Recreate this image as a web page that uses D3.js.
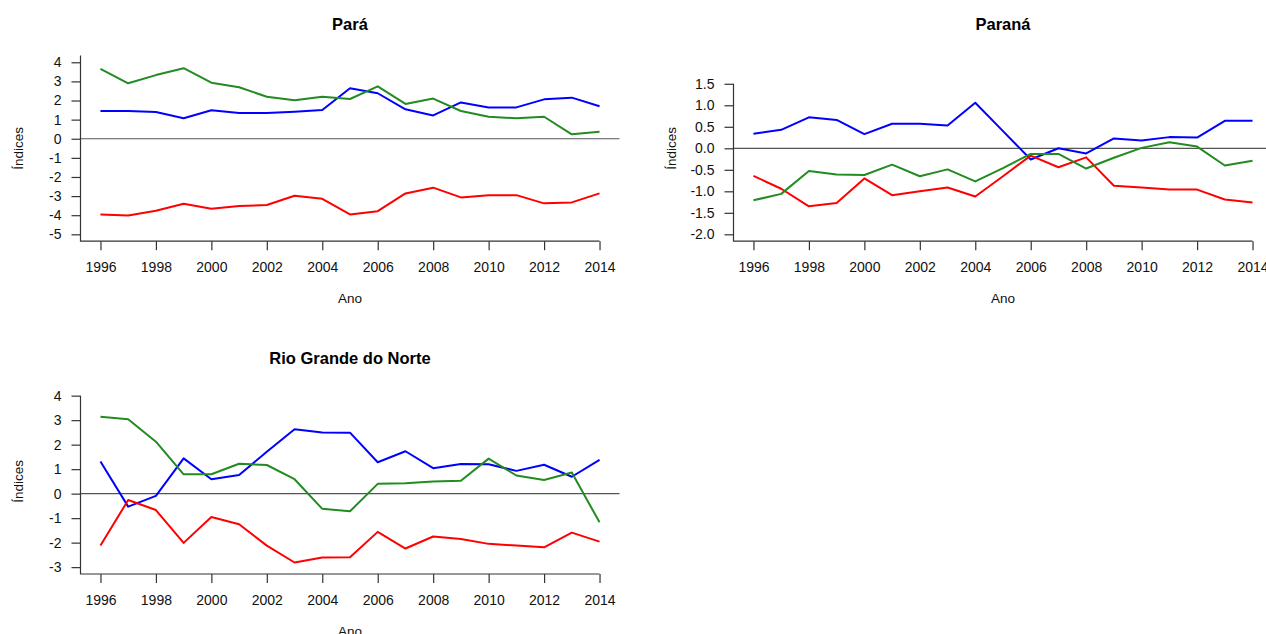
<!DOCTYPE html>
<html>
<head>
<meta charset="utf-8">
<script src="https://cdn.jsdelivr.net/npm/d3@7"></script>
<style>
  html, body { margin: 0; padding: 0; background: #ffffff; }
  svg { display: block; font-family: "Liberation Sans", Arial, sans-serif; }
</style>
</head>
<body>
<svg id="chart" width="1266" height="634"></svg>
<script>
// ---------------- DATA ----------------
const years = [1996, 1997, 1998, 1999, 2000, 2001, 2002, 2003, 2004, 2005,
               2006, 2007, 2008, 2009, 2010, 2011, 2012, 2013, 2014];
const xTickLabels = [1996, 1998, 2000, 2002, 2004, 2006, 2008, 2010, 2012, 2014];

// Pará
const paraBlue  = [1.45, 1.45, 1.40, 1.07, 1.49, 1.35, 1.35, 1.41, 1.50, 2.64, 2.38, 1.54, 1.22, 1.90, 1.64, 1.64, 2.06, 2.15, 1.70];
const paraRed   = [-3.96, -4.01, -3.77, -3.40, -3.66, -3.52, -3.47, -2.98, -3.14, -3.96, -3.79, -2.86, -2.56, -3.07, -2.95, -2.95, -3.38, -3.33, -2.86];
const paraGreen = [3.65, 2.90, 3.33, 3.69, 2.93, 2.69, 2.20, 2.01, 2.20, 2.08, 2.74, 1.82, 2.10, 1.45, 1.15, 1.07, 1.15, 0.23, 0.37];
const paraYTicks = [-5, -4, -3, -2, -1, 0, 1, 2, 3, 4];

// Paraná
const paranaBlue  = [0.34, 0.43, 0.72, 0.66, 0.33, 0.57, 0.57, 0.53, 1.06, 0.40, -0.26, 0.00, -0.12, 0.23, 0.18, 0.26, 0.25, 0.64, 0.64];
const paranaRed   = [-0.64, -0.94, -1.35, -1.27, -0.70, -1.09, -1.00, -0.91, -1.12, -0.65, -0.17, -0.44, -0.21, -0.87, -0.91, -0.96, -0.96, -1.19, -1.26];
const paranaGreen = [-1.21, -1.06, -0.53, -0.61, -0.62, -0.38, -0.65, -0.49, -0.77, -0.46, -0.13, -0.13, -0.47, -0.22, 0.01, 0.14, 0.04, -0.40, -0.29];
const paranaYTicks = [-2.0, -1.5, -1.0, -0.5, 0.0, 0.5, 1.0, 1.5];

// Rio Grande do Norte
const rgnBlue  = [1.31, -0.53, -0.09, 1.44, 0.59, 0.76, 1.71, 2.63, 2.50, 2.49, 1.28, 1.73, 1.04, 1.21, 1.20, 0.93, 1.18, 0.69, 1.38];
const rgnRed   = [-2.12, -0.26, -0.67, -2.01, -0.95, -1.25, -2.12, -2.81, -2.61, -2.60, -1.56, -2.24, -1.75, -1.85, -2.05, -2.12, -2.19, -1.59, -1.96];
const rgnGreen = [3.14, 3.04, 2.12, 0.79, 0.79, 1.22, 1.17, 0.59, -0.62, -0.72, 0.40, 0.42, 0.50, 0.53, 1.43, 0.74, 0.56, 0.86, -1.17];
const rgnYTicks = [-3, -2, -1, 0, 1, 2, 3, 4];

const titles = ["Pará", "Paraná", "Rio Grande do Norte"];
const xLabel = "Ano";
const yLabel = "Índices";

// ---------------- LAYOUT ----------------
const colors = { blue: "#0000FF", red: "#FF0000", green: "#228B22" };

const panels = [
  { title: titles[0], blue: paraBlue, red: paraRed, green: paraGreen, yTicks: paraYTicks,
    yLim: [-5, 4], fmt: d => String(d), axisTop: 4.36,
    box: { left: 80.5, right: 619.5, top: 55.4, bottom: 241.2 } },
  { title: titles[1], blue: paranaBlue, red: paranaRed, green: paranaGreen, yTicks: paranaYTicks,
    yLim: [-2, 2], fmt: d => d.toFixed(1), axisTop: 1.5,
    box: { left: 733.5, right: 1272.5, top: 55.4, bottom: 241.2 } },
  { title: titles[2], blue: rgnBlue, red: rgnRed, green: rgnGreen, yTicks: rgnYTicks,
    yLim: [-3, 4], fmt: d => String(d), axisTop: 4,
    box: { left: 80.5, right: 619.5, top: 388.8, bottom: 574.0 } }
];

const svg = d3.select("#chart");

function padDomain(lo, hi) {
  const p = (hi - lo) * 0.04;
  return [lo - p, hi + p];
}

panels.forEach(p => {
  const b = p.box;
  const x = d3.scaleLinear().domain(padDomain(years[0], years[years.length - 1])).range([b.left, b.right]);
  const y = d3.scaleLinear().domain(padDomain(p.yLim[0], p.yLim[1])).range([b.bottom, b.top]);
  const g = svg.append("g");

  // zero reference line
  g.append("line")
    .attr("x1", b.left).attr("x2", b.right)
    .attr("y1", y(0)).attr("y2", y(0))
    .attr("stroke", "#555").attr("stroke-width", 1.2);

  // series lines
  const line = d3.line().x((d, i) => x(years[i])).y(d => y(d));
  [["blue", p.blue], ["red", p.red], ["green", p.green]].forEach(([c, vals]) => {
    g.append("path")
      .datum(vals)
      .attr("d", line)
      .attr("fill", "none")
      .attr("stroke", colors[c])
      .attr("stroke-width", 2)
      .attr("stroke-linejoin", "round");
  });

  // y axis
  const yAxis = d3.axisLeft(y).tickValues(p.yTicks).tickFormat(p.fmt).tickSize(9).tickSizeOuter(0).tickPadding(10);
  const ya = g.append("g").attr("transform", `translate(${b.left},0)`).call(yAxis);
  ya.select(".domain").remove();
  ya.selectAll(".tick line").attr("stroke", "#333").attr("stroke-width", 1.2);
  ya.selectAll(".tick text").attr("fill", "#111").style("font-size", "14px");

  // x axis
  const xAxis = d3.axisBottom(x).tickValues(xTickLabels).tickFormat(d3.format("d")).tickSize(9).tickSizeOuter(0).tickPadding(12);
  const xa = g.append("g").attr("transform", `translate(0,${b.bottom})`).call(xAxis);
  xa.select(".domain").remove();
  xa.selectAll(".tick line").attr("stroke", "#333").attr("stroke-width", 1.2);
  xa.selectAll(".tick text").attr("fill", "#111").style("font-size", "14px");

  // axis lines (L shape)
  g.append("path")
    .attr("d", `M${b.left},${y(p.axisTop)}V${b.bottom}H${x(years[years.length - 1])}`)
    .attr("fill", "none").attr("stroke", "#333").attr("stroke-width", 1.2);

  // title
  g.append("text")
    .attr("x", (b.left + b.right) / 2)
    .attr("y", b.top - 25)
    .attr("text-anchor", "middle")
    .style("font-size", "16.5px").style("font-weight", "bold")
    .attr("fill", "#000")
    .text(p.title);

  // x label
  g.append("text")
    .attr("x", (b.left + b.right) / 2)
    .attr("y", b.bottom + 62)
    .attr("text-anchor", "middle")
    .style("font-size", "13.5px")
    .attr("fill", "#111")
    .text(xLabel);

  // y label
  const cy = (b.top + b.bottom) / 2;
  const lx = b.left - 58;
  g.append("text")
    .attr("transform", `translate(${lx},${cy}) rotate(-90)`)
    .attr("text-anchor", "middle")
    .style("font-size", "13.5px")
    .attr("fill", "#111")
    .text(yLabel);
});
</script>
</body>
</html>
